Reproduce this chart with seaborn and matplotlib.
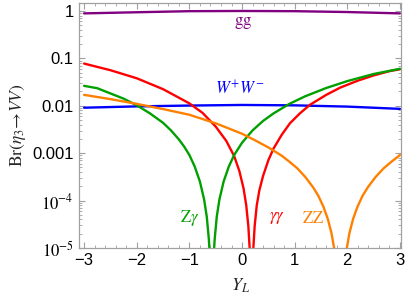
import numpy as np
import pandas as pd
import matplotlib
matplotlib.use("Agg")
import matplotlib.pyplot as plt
import matplotlib.ticker as mticker
import seaborn as sns

# ----------------------------- Data -----------------------------
# branching ratios; the three interference curves are given as the exponent read off
# the log axis (log10 Br), the dips go below the frame (Br -> 0)
gg_x = [-3.0, -2.0, -1.0, 0.0, 1.0, 2.0, 3.0]
gg_br = [0.89, 0.94, 0.99, 1.0, 0.99, 0.95, 0.89]

ww_x = [-3.0, -2.0, -1.0, 0.0, 1.0, 2.0, 3.0]
ww_br = [0.0091, 0.0097, 0.0101, 0.0104, 0.0102, 0.0096, 0.0086]

aa_x = [-3.0, -2.5, -2.0, -1.5, -1.0, -0.75, -0.5, -0.3, -0.15, -0.05, 0.03, 0.08, 0.12,
        0.15, 0.18, 0.21, 0.24, 0.28, 0.33, 0.40, 0.50, 0.60, 0.75, 0.91, 1.10, 1.29,
        1.6, 1.86, 2.2, 2.5, 2.8, 3.0]
aa_log = [-1.11, -1.25, -1.42, -1.65, -1.95, -2.15, -2.44, -2.74, -3.06, -3.38, -3.75,
          -4.1, -4.54, -5.1, -6.5, -5.1, -4.54, -4.1, -3.78, -3.48, -3.15, -2.90, -2.62,
          -2.37, -2.16, -1.98, -1.77, -1.62, -1.47, -1.36, -1.27, -1.23]

za_x = [-3.0, -2.75, -2.5, -2.25, -2.0, -1.75, -1.5, -1.35, -1.2, -1.1, -1.0, -0.9, -0.8,
        -0.72, -0.67, -0.63, -0.61, -0.575, -0.54, -0.52, -0.48, -0.43, -0.35, -0.25,
        -0.15, 0.0, 0.2, 0.4, 0.6, 0.9, 1.2, 1.6, 2.0, 2.5, 3.0]
za_log = [-1.58, -1.63, -1.74, -1.85, -1.99, -2.16, -2.36, -2.52, -2.71, -2.86, -3.04,
          -3.28, -3.60, -3.98, -4.34, -4.82, -5.2, -6.5, -5.2, -4.82, -4.34, -3.98, -3.60,
          -3.28, -3.04, -2.78, -2.52, -2.32, -2.16, -1.96, -1.80, -1.625, -1.48, -1.33, -1.22]

zz_x = [-3.0, -2.5, -2.0, -1.5, -1.0, -0.5, 0.0, 0.25, 0.5, 0.75, 0.9, 1.05, 1.2, 1.35,
        1.45, 1.55, 1.63, 1.70, 1.76, 1.87, 1.98, 2.04, 2.11, 2.19, 2.29, 2.39, 2.54,
        2.69, 2.84, 3.0]
zz_log = [-1.77, -1.86, -1.96, -2.07, -2.19, -2.37, -2.59, -2.73, -2.88, -3.05, -3.18,
          -3.32, -3.50, -3.72, -3.90, -4.14, -4.39, -4.69, -5.07, -6.5, -5.07, -4.69,
          -4.39, -4.14, -3.90, -3.72, -3.50, -3.32, -3.18, -3.04]

y_ticks = [1e-5, 1e-4, 1e-3, 1e-2, 1e-1, 1.0]
y_ticklabels = [r"$10^{-5}$", r"$10^{-4}$", "0.001", "0.01", "0.1", "1"]
x_ticks = [-3, -2, -1, 0, 1, 2, 3]
x_ticklabels = ["\u22123", "\u22122", "\u22121", "0", "1", "2", "3"]

series = [
    (gg_x, gg_br, "#800080"),
    (ww_x, ww_br, "#0000ff"),
    (aa_x, np.power(10.0, aa_log), "#ff0000"),
    (za_x, np.power(10.0, za_log), "#00a000"),
    (zz_x, np.power(10.0, zz_log), "#ff8000"),
]

# ----------------------------- Plot -----------------------------
sns.set_theme(style="ticks")
plt.rcParams["font.family"] = ["Liberation Sans", "DejaVu Sans"]
plt.rcParams["mathtext.fontset"] = "stix"

fig = plt.figure(figsize=(4.10, 2.98), dpi=100)
ax = fig.add_axes([0.193, 0.168, 0.785, 0.822])

for xs, ys, col in series:
    sns.lineplot(x=xs, y=ys, color=col, lw=1.7, estimator=None, sort=False, ax=ax)

ax.set_yscale("log")
ax.set_xlim(-3.095, 3.02)
ax.set_ylim(1e-5, 1.475)

ax.yaxis.set_major_locator(mticker.FixedLocator(y_ticks))
ax.yaxis.set_major_formatter(mticker.FixedFormatter(y_ticklabels))
ax.yaxis.set_minor_locator(mticker.LogLocator(base=10, subs=np.arange(2, 10)))
ax.yaxis.set_minor_formatter(mticker.NullFormatter())
ax.set_xticks(x_ticks)
ax.set_xticklabels(x_ticklabels)
ax.xaxis.set_minor_locator(mticker.MultipleLocator(0.2))

gray = "#a0a0a0"
for sp in ax.spines.values():
    sp.set_color(gray)
    sp.set_linewidth(0.9)
ax.tick_params(which="both", direction="in", top=True, right=True, color=gray,
               labelsize=12, labelcolor="black", pad=4)
ax.tick_params(which="major", length=4, width=0.8)
ax.tick_params(which="minor", length=2.2, width=0.6)

serif = ["Liberation Serif", "DejaVu Serif"]
ax.set_ylabel(r"$\mathrm{Br}(\eta_3\!\rightarrow\! VV)$", fontsize=12.5, family=serif, labelpad=3)
ax.set_xlabel(r"$Y_L$", fontsize=13, family=serif, labelpad=6)

ax.text(0.02, 0.56, r"$\mathrm{gg}$", color="#800080", fontsize=12, ha="center", va="center")
ax.text(-0.04, 0.024, r"$W^{+}W^{-}$", color="#0000ff", fontsize=12, ha="center", va="center")
ax.text(-0.99, 4.3e-5, r"$\mathrm{Z}\gamma$", color="#00a000", fontsize=12, ha="center", va="center")
ax.text(0.66, 4.3e-5, r"$\gamma\gamma$", color="#ff0000", fontsize=12, ha="center", va="center")
ax.text(1.35, 4.3e-5, r"$\mathrm{ZZ}$", color="#ff8000", fontsize=12, ha="center", va="center")

fig.savefig("out.png", dpi=100)
